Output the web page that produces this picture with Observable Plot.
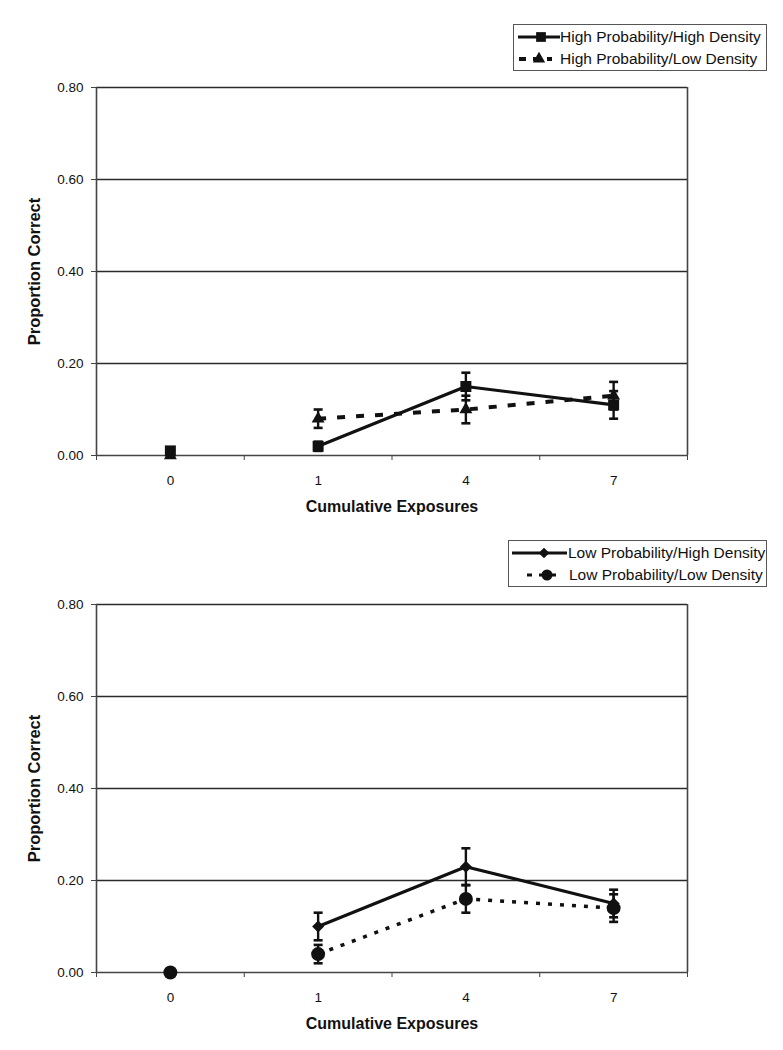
<!DOCTYPE html>
<html>
<head>
<meta charset="utf-8">
<script src="https://cdn.jsdelivr.net/npm/d3@7"></script>
<script src="https://cdn.jsdelivr.net/npm/@observablehq/plot@0.6"></script>
<style>
  html, body { margin: 0; padding: 0; background: #fff; }
  body { font-family: Arial, "Liberation Sans", sans-serif; }
  #wrap { position: relative; width: 783px; height: 1050px; overflow: hidden; }
  .chart { position: absolute; left: 0; }
  .legend { position: absolute; background: #fff; border: 1px solid #555; box-sizing: border-box;
            font: 15.5px Arial, "Liberation Sans", sans-serif; color: #111; padding: 0 0 0 2px; }
  .legend .row { display: flex; align-items: center; height: 22px; white-space: nowrap; }
  .legend svg { flex: none; }
</style>
</head>
<body>
<div id="wrap"></div>
<script>
// ---- data ----
const categories = ["0", "1", "4", "7"];
const yTicks = [0, 0.2, 0.4, 0.6, 0.8];

// Top panel
const hpHdMean = [0.01, 0.02, 0.15, 0.11];
const hpHdErr  = [0.00, 0.01, 0.03, 0.03];
const hpLdMean = [0.00, 0.08, 0.10, 0.13];
const hpLdErr  = [0.00, 0.02, 0.03, 0.03];

// Bottom panel
const lpHdMean = [0.00, 0.10, 0.23, 0.15];
const lpHdErr  = [0.00, 0.03, 0.04, 0.03];
const lpLdMean = [0.00, 0.04, 0.16, 0.14];
const lpLdErr  = [0.00, 0.02, 0.03, 0.03];

const xTitle = "Cumulative Exposures";
const yTitle = "Proportion Correct";

// ---- helpers ----
const ink = "#111";
const capSymbol = {
  draw(context, size) {
    const w = 4.5;
    context.moveTo(-w, 0);
    context.lineTo(w, 0);
  }
};

function rows(means, errs) {
  return categories.map((c, i) => ({
    cat: c, pos: i + 0.5, y: means[i], err: errs[i],
    lo: means[i] - errs[i], hi: means[i] + errs[i]
  }));
}

function panel({height, marginTop, marginBottom, series}) {
  const marks = [
    Plot.ruleY(yTicks.filter(d => d > 0), {stroke: "#2a2a2a", strokeWidth: 1.3}),
    Plot.ruleY([0], {stroke: "#444", strokeWidth: 1.6}),
    Plot.ruleX([0, 4], {stroke: "#444", strokeWidth: 1.6}),
    Plot.axisY({ticks: yTicks, tickFormat: () => "", tickSize: 5, label: null, stroke: "#444"}),
    Plot.axisX({ticks: [0, 1, 2, 3, 4], tickSize: 5, tickFormat: () => "", label: null, stroke: "#444"}),
    Plot.text(yTicks, {x: 0, y: d => d, text: d3.format(".2f"), textAnchor: "end", dx: -13,
                       fontSize: 13.5, fill: ink}),
    Plot.text(categories, {x: (d, i) => i + 0.5, frameAnchor: "bottom", text: d => d, dy: 29,
                           fontSize: 13.5, fill: ink}),
    Plot.text([yTitle], {frameAnchor: "left", textAnchor: "middle", text: d => d, rotate: -90, dx: -62,
                         fontSize: 16.5, fontWeight: "bold", fill: ink}),
    Plot.text([xTitle], {frameAnchor: "bottom", textAnchor: "middle", text: d => d, dy: 56,
                         fontSize: 16, fontWeight: "bold", fill: ink})
  ];
  for (const s of series) {
    const data = rows(s.mean, s.err);
    const eb = data.filter(d => d.err > 0);
    marks.push(
      Plot.line(data.filter(d => d.cat !== "0"), {x: "pos", y: "y", stroke: ink,
        strokeWidth: s.lineWidth, strokeDasharray: s.dash, strokeLinecap: "butt"}),
      Plot.ruleX(eb, {x: "pos", y1: "lo", y2: "hi", stroke: ink, strokeWidth: 2.4}),
      Plot.dot(eb, {x: "pos", y: "lo", symbol: capSymbol, stroke: ink, strokeWidth: 2.6, r: 3}),
      Plot.dot(eb, {x: "pos", y: "hi", symbol: capSymbol, stroke: ink, strokeWidth: 2.6, r: 3}),
      Plot.dot(data, {x: "pos", y: "y", symbol: s.symbol, r: s.r, fill: ink, stroke: "none"})
    );
  }
  return Plot.plot({
    width: 783, height, marginTop, marginBottom, marginLeft: 96, marginRight: 96,
    x: {domain: [0, 4], axis: null},
    y: {domain: [0, 0.8], axis: null},
    style: {fontFamily: "Arial, 'Liberation Sans', sans-serif", fontSize: "13px", color: ink, background: "transparent"},
    marks
  });
}

function legend(items, {left, top, width, height}) {
  const div = document.createElement("div");
  div.className = "legend";
  div.style.left = left + "px";
  div.style.top = top + "px";
  div.style.width = width + "px";
  div.style.height = height + "px";
  div.style.paddingTop = "1px";
  for (const it of items) {
    const row = document.createElement("div");
    row.className = "row";
    const w = it.iconWidth;
    const svg = d3.create("svg").attr("width", w).attr("height", 20);
    svg.append("line").attr("x1", it.x1).attr("x2", it.x2).attr("y1", 10).attr("y2", 10)
      .attr("stroke", ink).attr("stroke-width", it.lineWidth)
      .attr("stroke-dasharray", it.dash || null);
    svg.append("path").attr("transform", `translate(${it.sx},10)`)
      .attr("d", d3.symbol(it.d3symbol, Math.PI * it.r * it.r)()).attr("fill", ink);
    row.appendChild(svg.node());
    const span = document.createElement("span");
    span.textContent = it.label;
    span.style.marginLeft = it.gap + "px";
    row.appendChild(span);
    div.appendChild(row);
  }
  return div;
}

const wrap = document.getElementById("wrap");

// top chart
const top1 = panel({
  height: 530, marginTop: 87, marginBottom: 75,
  series: [
    {mean: hpLdMean, err: hpLdErr, symbol: "triangle", r: 4.8, dash: "8,11", lineWidth: 4},
    {mean: hpHdMean, err: hpHdErr, symbol: "square", r: 6.2, dash: null, lineWidth: 3.2}
  ]
});
top1.classList.add("chart");
top1.style.top = "0px";
wrap.appendChild(top1);

// bottom chart
const bot = panel({
  height: 520, marginTop: 74, marginBottom: 78,
  series: [
    {mean: lpLdMean, err: lpLdErr, symbol: "circle", r: 7, dash: "4,8", lineWidth: 3.5},
    {mean: lpHdMean, err: lpHdErr, symbol: "diamond2", r: 5.4, dash: null, lineWidth: 3.2}
  ]
});
bot.classList.add("chart");
bot.style.top = "530px";
wrap.appendChild(bot);

wrap.appendChild(legend([
  {label: "High Probability/High Density", d3symbol: d3.symbolSquare, r: 5.5, x1: 2, x2: 44, sx: 25,
   lineWidth: 3.2, iconWidth: 44, gap: 0},
  {label: "High Probability/Low Density", d3symbol: d3.symbolTriangle, r: 4.6, x1: 3, x2: 36, sx: 23,
   lineWidth: 4, dash: "7,7", iconWidth: 44, gap: 0}
], {left: 513, top: 24, width: 254, height: 47}));

wrap.appendChild(legend([
  {label: "Low Probability/High Density", d3symbol: d3.symbolDiamond2, r: 4.8, x1: 1, x2: 56, sx: 33,
   lineWidth: 3.2, iconWidth: 56, gap: 1},
  {label: "Low Probability/Low Density", d3symbol: d3.symbolCircle, r: 5.5, x1: 16, x2: 51, sx: 36,
   lineWidth: 3.2, dash: "5,7", iconWidth: 56, gap: 2}
], {left: 508, top: 540, width: 259, height: 47}));
</script>
</body>
</html>
